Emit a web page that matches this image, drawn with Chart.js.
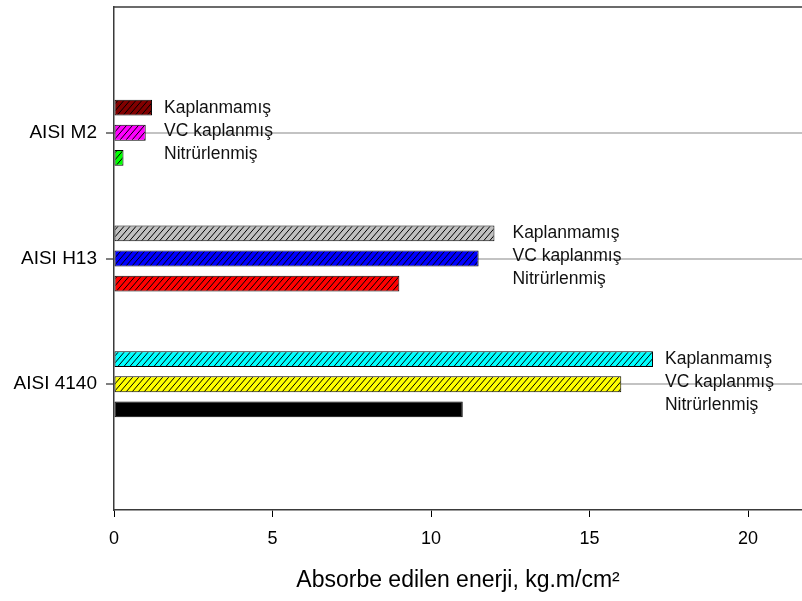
<!DOCTYPE html>
<html>
<head>
<meta charset="utf-8">
<script src="https://cdn.jsdelivr.net/npm/chart.js@4.4.1/dist/chart.umd.min.js"></script>
<style>
  html, body { margin: 0; padding: 0; background: #ffffff; }
  #c { display: block; }
</style>
</head>
<body>
<canvas id="c" width="802" height="601"></canvas>
<script>
// Impact energy absorbed by three tool steels, per surface condition
const categories = ['AISI M2', 'AISI H13', 'AISI 4140'];
const seriesNames = ['Kaplanmamış', 'VC kaplanmış', 'Nitrürlenmiş'];
const kaplanmamis = [1.2, 12.0, 17.0];
const vcKaplanmis = [1.0, 11.5, 16.0];
const nitrurlenmis = [0.3, 9.0, 11.0];
const xTickValues = [0, 5, 10, 15, 20];
const xTitle = 'Absorbe edilen enerji, kg.m/cm²';

// fill colours per series, one per steel (top to bottom)
const kaplanmamisColors = ['#800000', '#c0c0c0', '#00ffff'];
const vcColors = ['#ff00ff', '#0000ff', '#ffff00'];
const nitrurColors = ['#00ff00', '#ff0000', '#000000'];

const canvas = document.getElementById('c');
const ctx = canvas.getContext('2d');

// diagonal "/" hatch over a solid colour
function hatch(color) {
  const w = 6, h = 7;
  const t = document.createElement('canvas');
  t.width = w; t.height = h;
  const g = t.getContext('2d');
  g.fillStyle = color;
  g.fillRect(0, 0, w, h);
  g.strokeStyle = '#000000';
  g.lineWidth = 1;
  g.beginPath();
  g.moveTo(-w, 2 * h); g.lineTo(2 * w, -h);
  g.moveTo(-2 * w, 2 * h); g.lineTo(w, -h);
  g.moveTo(0, 2 * h); g.lineTo(3 * w, -h);
  g.stroke();
  return ctx.createPattern(t, 'repeat');
}

// empty slots above and below keep the steels spaced evenly on the axis
const yLabels = ['', ...categories, ''];
const pad = arr => [null, ...arr, null];
const padFill = cols => [null, ...cols.map(hatch), null];

const seriesValues = [kaplanmamis, vcKaplanmis, nitrurlenmis];
const seriesColors = [kaplanmamisColors, vcColors, nitrurColors];

const datasets = seriesNames.map((name, i) => ({
  label: name,
  data: pad(seriesValues[i]),
  backgroundColor: padFill(seriesColors[i]),
  borderColor: '#000000',
  borderWidth: 1,
  borderSkipped: false,
  categoryPercentage: 0.597,
  barPercentage: 0.63
}));

const axisColor = '#3a3a3a';
const isCategoryTick = c => c.index >= 1 && c.index <= categories.length;

// series names written beside each group of bars
const labelGap = [12, 18, 12];
const groupLabels = {
  id: 'groupLabels',
  afterDatasetsDraw(chart) {
    const g = chart.ctx;
    const y = chart.scales.y;
    g.save();
    g.font = '17.5px "Liberation Sans", Arial, sans-serif';
    g.fillStyle = '#111111';
    g.textAlign = 'left';
    g.textBaseline = 'middle';
    categories.forEach((cat, i) => {
      const idx = i + 1;
      let maxX = -Infinity;
      chart.data.datasets.forEach((ds, d) => {
        const el = chart.getDatasetMeta(d).data[idx];
        if (el) maxX = Math.max(maxX, el.x);
      });
      const yc = y.getPixelForValue(idx);
      const x = maxX + labelGap[i];
      chart.data.datasets.forEach((ds, d) => {
        g.fillText(ds.label, x, yc - 2 + (d - 1) * 23);
      });
    });
    g.restore();
  }
};

// upper frame line of the plot area
const topFrame = {
  id: 'topFrame',
  afterDraw(chart) {
    const a = chart.chartArea;
    const g = chart.ctx;
    g.save();
    g.strokeStyle = axisColor;
    g.lineWidth = 1.5;
    g.beginPath();
    g.moveTo(a.left, a.top);
    g.lineTo(chart.width, a.top);
    g.stroke();
    g.restore();
  }
};

new Chart(ctx, {
  type: 'bar',
  data: { labels: yLabels, datasets },
  plugins: [groupLabels, topFrame],
  options: {
    indexAxis: 'y',
    responsive: false,
    animation: false,
    devicePixelRatio: 1,
    layout: { padding: { top: 7, left: 0, right: 0, bottom: 0 } },
    plugins: {
      legend: { display: false },
      tooltip: { enabled: false },
      title: { display: false }
    },
    scales: {
      x: {
        type: 'linear',
        min: 0,
        max: 21.7,
        afterBuildTicks: s => { s.ticks = xTickValues.map(v => ({ value: v })); },
        afterFit: s => { s.height = 91; },
        grid: {
          drawOnChartArea: false,
          drawTicks: true,
          tickLength: 7,
          tickColor: '#000000',
          tickWidth: 1
        },
        border: { display: true, color: axisColor, width: 1.5 },
        ticks: {
          color: '#000000',
          padding: 11,
          font: { family: '"Liberation Sans", Arial, sans-serif', size: 18 }
        },
        title: {
          display: true,
          text: xTitle,
          color: '#000000',
          font: { family: '"Liberation Sans", Arial, sans-serif', size: 23 },
          padding: { top: 4, bottom: 7 }
        }
      },
      y: {
        type: 'category',
        offset: false,
        afterFit: s => {
          s.width = 114;
          s.paddingTop = 0;
          s.paddingBottom = 0;
        },
        grid: {
          offset: false,
          drawOnChartArea: true,
          drawTicks: true,
          tickLength: 8,
          lineWidth: 2,
          color: c => isCategoryTick(c) ? '#c3c3c3' : 'rgba(0,0,0,0)',
          tickColor: c => isCategoryTick(c) ? '#000000' : 'rgba(0,0,0,0)',
          tickWidth: 1
        },
        border: { display: true, color: axisColor, width: 1.5 },
        ticks: {
          color: '#000000',
          padding: 9,
          autoSkip: false,
          font: { family: '"Liberation Sans", Arial, sans-serif', size: 19 }
        }
      }
    }
  }
});
</script>
</body>
</html>
